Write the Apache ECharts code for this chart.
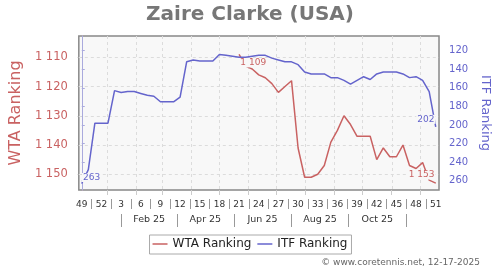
<!DOCTYPE html>
<html><head><meta charset="utf-8">
<script src="https://cdn.jsdelivr.net/npm/echarts@6/dist/echarts.min.js"></script>
<style>html,body{margin:0;padding:0;background:#fff}#c{width:500px;height:270px}</style>
</head><body><div id="c"></div>
<script>
// ---- data ----
const weeks = [49,50,51,52,1,2,3,4,5,6,7,8,9,10,11,12,13,14,15,16,17,18,19,20,21,22,23,24,25,26,27,28,29,30,31,32,33,34,35,36,37,38,39,40,41,42,43,44,45,46,47,48,49,50,51];
const wtaRanking = [null,null,null,null,null,null,null,null,null,null,null,null,null,null,null,null,null,null,null,null,null,null,null,null,
  1109,1113,1114,1116,1117,1119,1122,1120,1118,1141,1151,1151,1150,1147,1139,1135,1130,1133,1137,1137,1137,1145,1141,1144,1144,1140,1147,1148,1146,1152,1153];
const itfRanking = [263,248,198,198,198,163,165,164,164,166,168,169,175,175,175,170,132,130,131,131,131,124,125,126,127,127,126,125,125,128,130,132,132,135,143,145,145,145,149,149,152,156,152,148,151,145,143,143,143,145,149,148,152,164,202];
const wtaTicks = [1110,1120,1130,1140,1150];
const itfTicks = [120,140,160,180,200,220,240,260];
const weekLabelIdx = [0,3,6,9,12,15,18,21,24,27,30,33,36,39,42,45,48,51,54];
const weekSepIdx = [1.5,4.5,7.5,10.5,13.5,16.5,19.5,22.5,25.5,28.5,31.5,34.5,37.5,40.5,43.5,46.5,49.5,52.5];
const monthStartDates = ['2025-01-01','2025-02-01','2025-03-01','2025-04-01','2025-05-01','2025-06-01','2025-07-01','2025-08-01','2025-09-01','2025-10-01','2025-11-01','2025-12-01'];
const monthLabels = ['Feb 25','Apr 25','Jun 25','Aug 25','Oct 25'];
const firstWeekDate = '2024-12-05';

// ---- scales helpers ----
const WEEK = 7*86400000;
const t0 = Date.parse(firstWeekDate+'T00:00:00Z');
const pos = d => (Date.parse(d+'T00:00:00Z') - t0) / WEEK;
const monthStarts = monthStartDates.map(pos);
const mid = k => (monthStarts[k] + monthStarts[k+1]) / 2;
const monthSep = [0,2,4,6,8,10].map(mid);
const monthLabelPos = [1,3,5,7,9].map(mid);
const fmt = n => String(n).replace(/\B(?=(\d{3})+(?!\d))/g, ' ');
const XMIN = -0.45, XMAX = 54.5;

const RED = '#c96262', BLUE = '#6464cc';
const labelBase = {show:true, fontSize:9, backgroundColor:'#f8f8f8', padding:[0,1], distance:0, formatter: p => fmt(p.value[1])};

function build(arr, color, firstLab, lastLab) {
  const pts = [];
  arr.forEach((v,i) => { if (v != null) pts.push({value:[i,v]}); });
  const f = pts[0], l = pts[pts.length-1];
  f.symbol = 'circle'; f.symbolSize = 0.5; f.label = Object.assign({color:color}, labelBase, firstLab);
  l.symbol = 'circle'; l.symbolSize = 0.5; l.label = Object.assign({color:color}, labelBase, lastLab);
  return pts;
}

const chart = echarts.init(document.getElementById('c'), null, {renderer:'canvas'});
chart.setOption({
  animation:false,
  textStyle:{fontFamily:'DejaVu Sans'},
  title:{text:'Zaire Clarke (USA)', left:'center', top:0, textStyle:{fontSize:20, fontWeight:'bold', color:'#777', fontFamily:'DejaVu Sans'}},
  legend:{top:235, left:'center', data:['WTA Ranking','ITF Ranking'], icon:'path://M0,0H30V3H0Z', borderColor:'#aaa', borderWidth:1, padding:[3,4,4,3], itemWidth:15, itemHeight:14, itemGap:6, textStyle:{fontSize:12, color:'#222'}},
  graphic:[{type:'text', right:20, top:258, style:{text:'\u00a9 www.coretennis.net, 12-17-2025', font:'9px "DejaVu Sans"', fill:'#666'}}],
  grid:{left:78, top:36, width:364, height:154, show:true, backgroundColor:'#f8f8f8', borderColor:'#888', borderWidth:1.5, containLabel:false},
  xAxis:[
    {type:'value', min:XMIN, max:XMAX, position:'bottom', offset:9, axisLine:{show:false}, splitLine:{show:false},
     axisTick:{show:true, customValues:weekSepIdx, length:10, lineStyle:{color:'#999'}},
     axisLabel:{customValues:weekLabelIdx, formatter:v => String(weeks[Math.round(v)]), fontSize:9, color:'#333', margin:1}},
    {type:'value', min:XMIN, max:XMAX, position:'bottom', offset:24, axisLine:{show:false}, splitLine:{show:false},
     axisTick:{show:true, customValues:monthSep, length:13, lineStyle:{color:'#999'}},
     axisLabel:{customValues:monthLabelPos, formatter:v => { let b=0; monthLabelPos.forEach((p,k)=>{ if (Math.abs(p-v) < Math.abs(monthLabelPos[b]-v)) b=k; }); return monthLabels[b]; }, fontSize:9.5, color:'#333', margin:1}},
    {type:'value', min:XMIN, max:XMAX, position:'bottom', offset:0, axisLine:{show:false}, splitLine:{show:false},
     axisTick:{show:true, customValues:monthStarts, length:5, lineStyle:{color:'#ccc'}}, axisLabel:{show:false}}
  ],
  yAxis:[
    {type:'value', inverse:true, min:1102.72, max:1155.37, position:'left', offset:4,
     axisLine:{show:true, lineStyle:{color:'#e3aaaa'}}, splitLine:{show:false},
     axisTick:{show:true, customValues:wtaTicks, length:4, lineStyle:{color:'#999'}},
     axisLabel:{customValues:wtaTicks, formatter:fmt, color:RED, fontSize:11.5, margin:7},
     name:'WTA Ranking', nameLocation:'middle', nameGap:46, nameTextStyle:{color:RED, fontSize:16}},
    {type:'value', inverse:true, min:104.17, max:270, position:'right', offset:5,
     axisLine:{show:true, lineStyle:{color:'#aaaadd'}}, splitLine:{show:false},
     axisTick:{show:true, customValues:itfTicks, length:3, lineStyle:{color:'#aaaadd'}},
     axisLabel:{customValues:itfTicks, color:BLUE, fontSize:10, margin:5},
     name:'ITF Ranking', nameLocation:'middle', nameGap:28, nameRotate:-90, nameTextStyle:{color:BLUE, fontSize:13}}
  ],
  series:[
    {name:'WTA Ranking', type:'line', xAxisIndex:0, yAxisIndex:0, symbol:'none', color:RED, lineStyle:{width:1.5, color:RED},
     data: build(wtaRanking, RED, {position:'right', offset:[0,8.5]}, {position:'left', offset:[0,-8]}),
     markLine:{silent:true, symbol:['none','none'], label:{show:false}, z:1, lineStyle:{color:'#dcdcdc', type:[3,3], width:1},
       data: wtaTicks.map(v=>({yAxis:v})).concat(monthStarts.map(m=>({xAxis:m})))}},
    {name:'ITF Ranking', type:'line', xAxisIndex:0, yAxisIndex:1, symbol:'none', color:BLUE, lineStyle:{width:1.5, color:BLUE},
     data: build(itfRanking, BLUE, {position:'right', offset:[0,-6]}, {position:'left', offset:[0,-7.5]})}
  ]
});
</script></body></html>
